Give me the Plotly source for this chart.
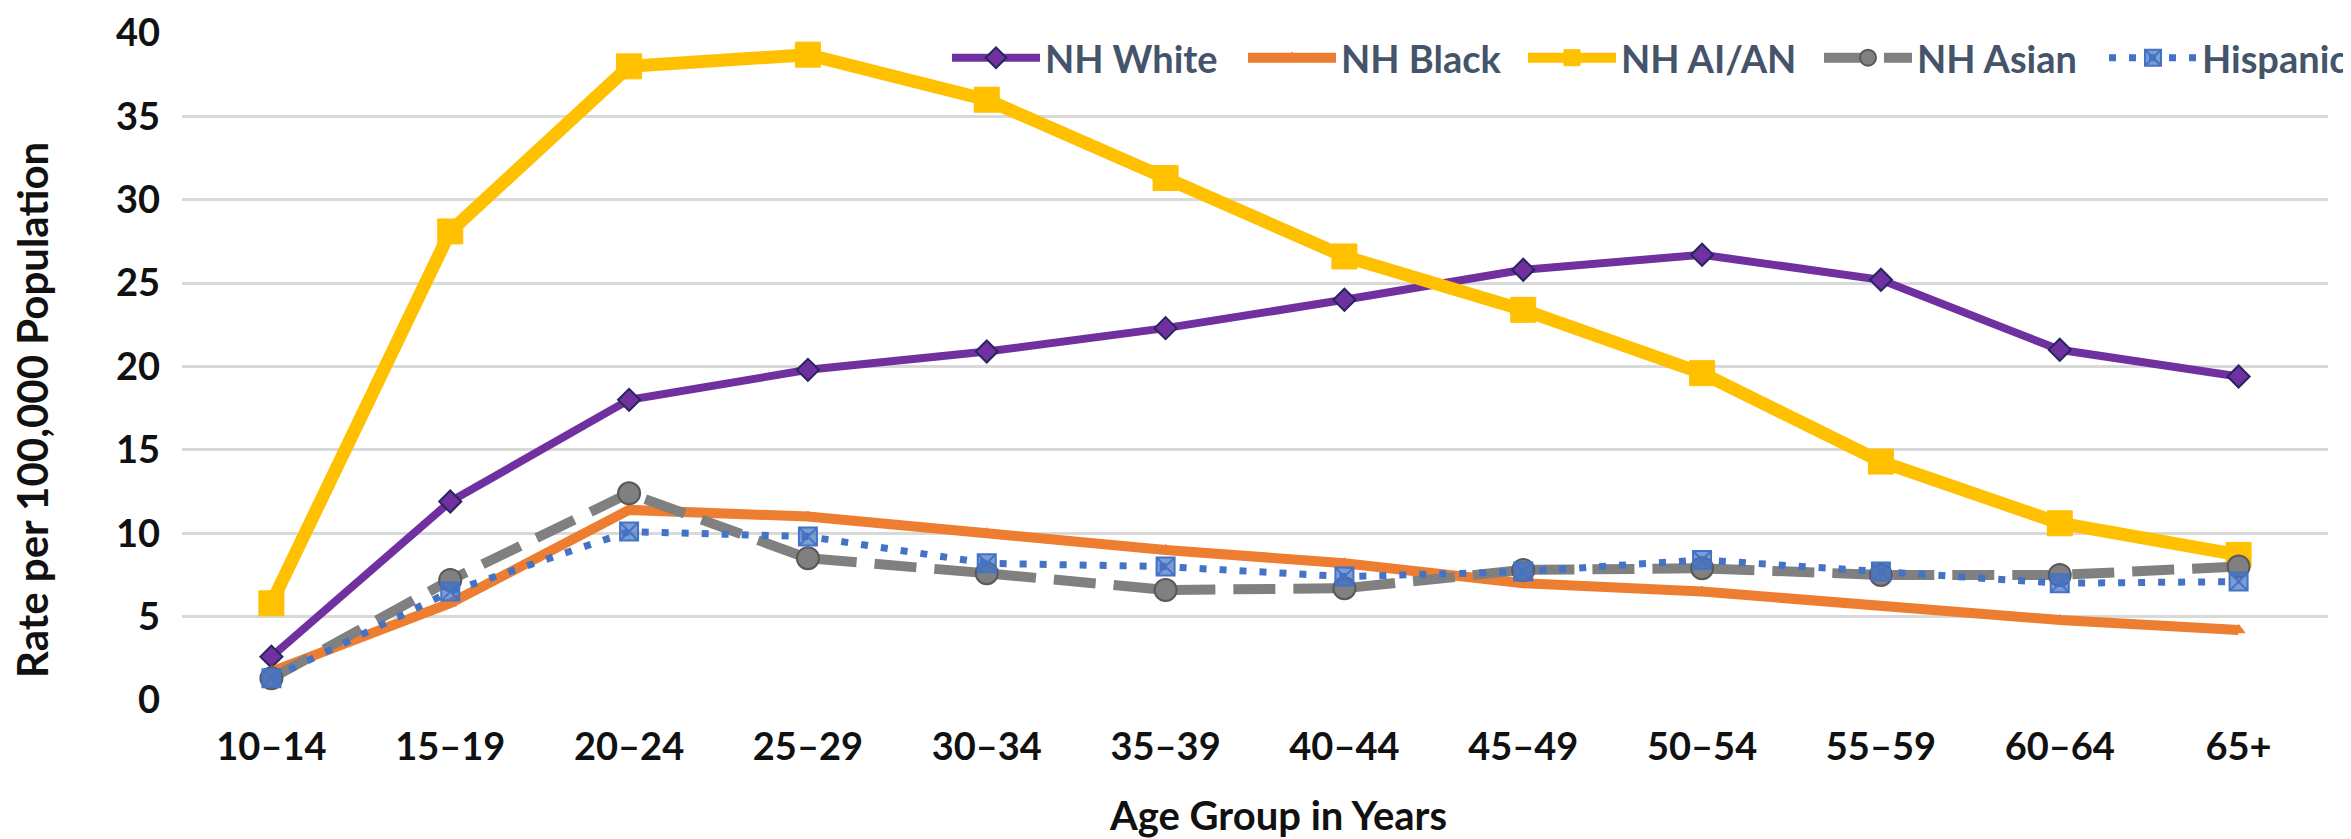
import plotly.graph_objects as go

age_groups = ["10–14", "15–19", "20–24", "25–29", "30–34", "35–39",
              "40–44", "45–49", "50–54", "55–59", "60–64", "65+"]
nh_white = [2.6, 11.9, 18.0, 19.8, 20.9, 22.3, 24.0, 25.8, 26.7, 25.2, 21.0, 19.4]
nh_black = [1.7, 5.8, 11.4, 11.0, 10.0, 9.0, 8.2, 7.0, 6.5, 5.6, 4.8, 4.2]
nh_aian = [5.8, 28.1, 38.0, 38.7, 36.0, 31.3, 26.6, 23.4, 19.6, 14.3, 10.6, 8.7]
nh_asian = [1.3, 7.2, 12.4, 8.5, 7.6, 6.6, 6.7, 7.8, 7.9, 7.5, 7.5, 8.0]
hispanic = [1.3, 6.5, 10.1, 9.8, 8.2, 8.0, 7.4, 7.7, 8.4, 7.7, 7.0, 7.1]
y_ticks = [0, 5, 10, 15, 20, 25, 30, 35, 40]

NARROW = "Lato, Roboto, sans-serif"
W, H = 2351, 839
L, R, T, B = 174, 31, 25, 147
PW, PH = W - L - R, H - T - B


def px_x(v):
    return (v - L) / PW


def px_y(v):
    return (H - B - v) / PH


fig = go.Figure()
fig.add_trace(go.Scatter(
    x=age_groups, y=nh_white, name="NH White", mode="lines+markers",
    line=dict(color="#7030A0", width=8), legendwidth=193,
    marker=dict(symbol="diamond", size=17, color="#7030A0",
                line=dict(color="#26265E", width=2))))
fig.add_trace(go.Scatter(
    x=age_groups, y=nh_black, name="NH Black", mode="lines+markers",
    line=dict(color="#ED7D31", width=10), legendwidth=177,
    marker=dict(symbol="triangle-up", size=11, color="#ED7D31",
                line=dict(color="#ED7D31", width=1))))
fig.add_trace(go.Scatter(
    x=age_groups, y=nh_aian, name="NH AI/AN", mode="lines+markers",
    line=dict(color="#FFC000", width=13), legendwidth=193,
    marker=dict(symbol="square", size=25, color="#FFC000",
                line=dict(color="#FFC000", width=1))))
fig.add_trace(go.Scatter(
    x=age_groups, y=nh_asian, name="NH Asian", mode="lines+markers",
    line=dict(color="#808080", width=10, dash="42px,18px"), legendwidth=182,
    marker=dict(symbol="circle", size=22, color="#808080",
                line=dict(color="#595959", width=2))))
fig.add_trace(go.Scatter(
    x=age_groups, y=hispanic, name="Hispanic", mode="lines+markers",
    line=dict(color="#4472C4", width=7, dash="7px,13px"), legendwidth=150,
    marker=dict(symbol="square-x", size=18, color="rgba(68,114,196,0.7)",
                line=dict(color="#4472C4", width=2))))

fig.update_layout(
    width=W, height=H,
    margin=dict(l=L, r=R, t=T, b=B, autoexpand=False),
    paper_bgcolor="white", plot_bgcolor="white",
    showlegend=True,
    legend=dict(orientation="h", x=px_x(939), xanchor="left",
                y=px_y(50), yanchor="middle",
                bgcolor="rgba(0,0,0,0)",
                font=dict(family=NARROW, size=38, color="#44546A", weight="bold"),
                itemwidth=88, tracegroupgap=0),
    xaxis=dict(type="category", range=[-0.5, 11.5], showgrid=False, zeroline=False,
               showline=False, ticks="", automargin=False,
               tickfont=dict(family=NARROW, size=38, color="#111111", weight="bold"),
               ticklabelstandoff=21),
    yaxis=dict(range=[0, 40], tickvals=y_ticks, showgrid=True, gridcolor="#D9D9D9",
               gridwidth=3, zeroline=False, showline=False, ticks="", automargin=False,
               tickfont=dict(family=NARROW, size=38, color="#111111", weight="bold"),
               ticklabelstandoff=21),
    annotations=[
        dict(text="Age Group in Years", xref="paper", yref="paper",
             x=px_x(1270), y=px_y(807),
             xanchor="center", yanchor="middle", showarrow=False,
             font=dict(family=NARROW, size=40, color="#111111", weight="bold")),
        dict(text="Rate per 100,000 Population", xref="paper", yref="paper",
             x=px_x(24), y=px_y(402),
             xanchor="center", yanchor="middle", showarrow=False, textangle=-90,
             font=dict(family=NARROW, size=42, color="#111111", weight="bold")),
    ],
)

fig.write_html("out.html")
